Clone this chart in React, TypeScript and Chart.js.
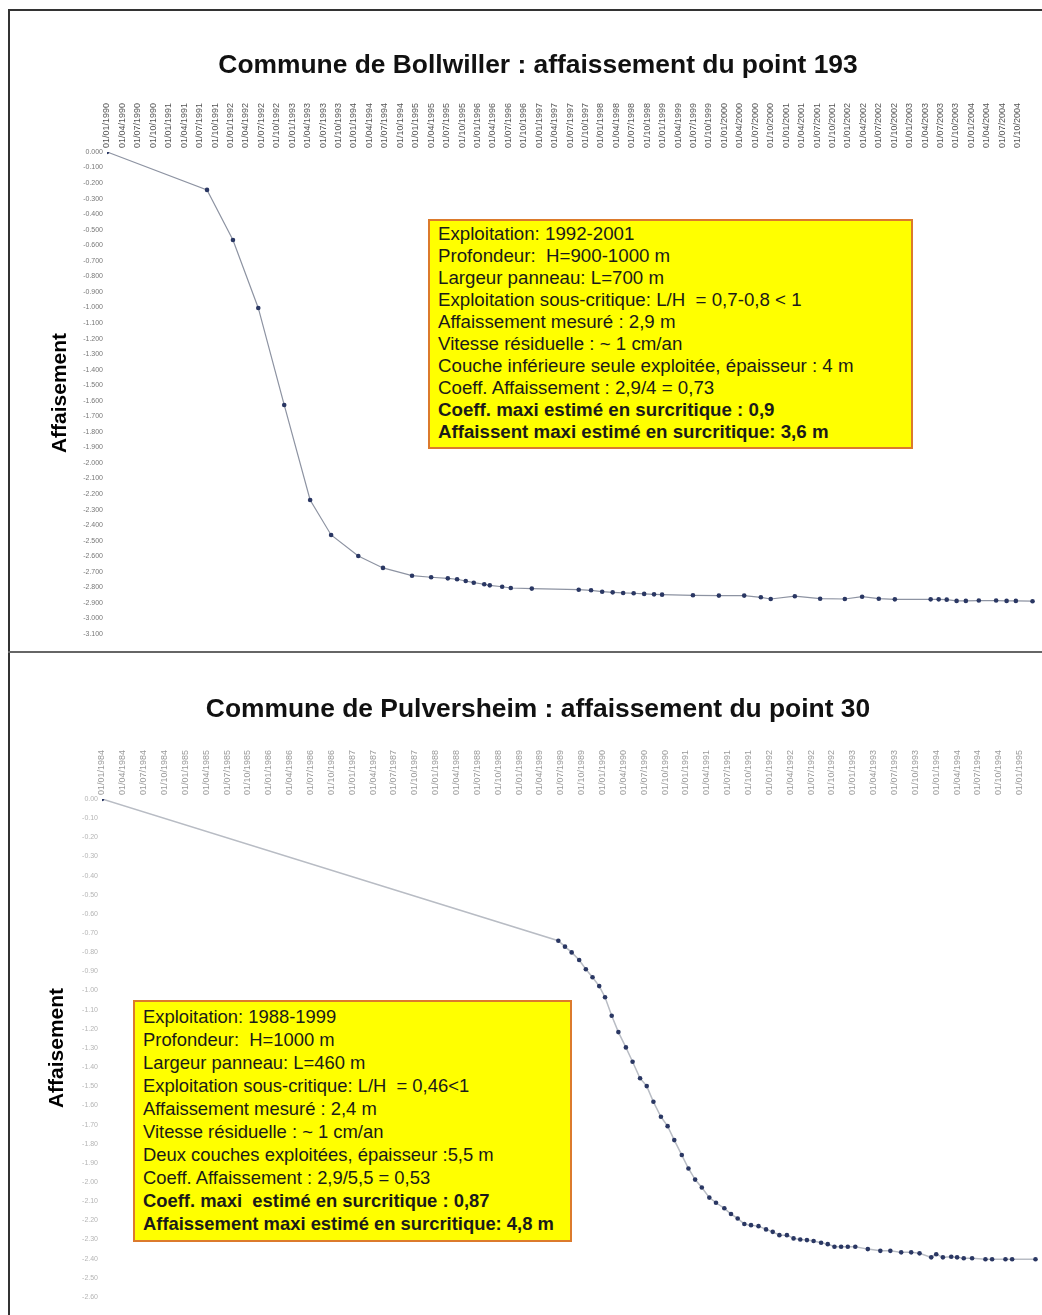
import React, { useEffect, useRef } from "react";
import { Chart, registerables } from "chart.js";

Chart.register(...registerables);

const FONT = "'Liberation Sans', Arial, Helvetica, sans-serif";

// ---------- Bollwiller, point 193 ----------
const bollwillerTitle = "Commune de Bollwiller : affaissement du point 193";
const bollwillerDates = [
  1990.0, 1991.62, 1992.04, 1992.45, 1992.87, 1993.29, 1993.63, 1994.07, 1994.47, 1994.94,
  1995.25, 1995.52, 1995.67, 1995.81, 1995.94, 1996.11, 1996.2, 1996.4, 1996.54, 1996.88,
  1997.64, 1997.84, 1998.02, 1998.19, 1998.36, 1998.53, 1998.7, 1998.86, 1998.99, 1999.49,
  1999.91, 2000.32, 2000.59, 2000.75, 2001.14, 2001.55, 2001.95, 2002.23, 2002.5, 2002.76,
  2003.34, 2003.47, 2003.6, 2003.76, 2003.91, 2004.12, 2004.4, 2004.57, 2004.72, 2004.99,
];
const bollwillerValues = [
  0, -0.244, -0.566, -1.003, -1.627, -2.238, -2.463, -2.598, -2.675, -2.725,
  -2.735, -2.742, -2.748, -2.759, -2.77, -2.78, -2.787, -2.796, -2.804, -2.808,
  -2.815, -2.819, -2.828, -2.832, -2.836, -2.838, -2.842, -2.845, -2.847, -2.851,
  -2.853, -2.853, -2.864, -2.875, -2.857, -2.873, -2.875, -2.86, -2.873, -2.877,
  -2.877, -2.877, -2.879, -2.887, -2.887, -2.885, -2.885, -2.887, -2.887, -2.889,
];
const bollwillerTickLabels = [
  "01/01/1990", "01/04/1990", "01/07/1990", "01/10/1990",
  "01/01/1991", "01/04/1991", "01/07/1991", "01/10/1991",
  "01/01/1992", "01/04/1992", "01/07/1992", "01/10/1992",
  "01/01/1993", "01/04/1993", "01/07/1993", "01/10/1993",
  "01/01/1994", "01/04/1994", "01/07/1994", "01/10/1994",
  "01/01/1995", "01/04/1995", "01/07/1995", "01/10/1995",
  "01/01/1996", "01/04/1996", "01/07/1996", "01/10/1996",
  "01/01/1997", "01/04/1997", "01/07/1997", "01/10/1997",
  "01/01/1998", "01/04/1998", "01/07/1998", "01/10/1998",
  "01/01/1999", "01/04/1999", "01/07/1999", "01/10/1999",
  "01/01/2000", "01/04/2000", "01/07/2000", "01/10/2000",
  "01/01/2001", "01/04/2001", "01/07/2001", "01/10/2001",
  "01/01/2002", "01/04/2002", "01/07/2002", "01/10/2002",
  "01/01/2003", "01/04/2003", "01/07/2003", "01/10/2003",
  "01/01/2004", "01/04/2004", "01/07/2004", "01/10/2004",
];
const bollwillerXRange = [1990.0, 2005.03];
const bollwillerYRange = [-3.1, 0];
const bollwillerNotes = [
  "Exploitation: 1992-2001",
  "Profondeur:  H=900-1000 m",
  "Largeur panneau: L=700 m",
  "Exploitation sous-critique: L/H  = 0,7-0,8 < 1",
  "Affaissement mesuré : 2,9 m",
  "Vitesse résiduelle : ~ 1 cm/an",
  "Couche inférieure seule exploitée, épaisseur : 4 m",
  "Coeff. Affaissement : 2,9/4 = 0,73",
];
const bollwillerBoldNotes = [
  "Coeff. maxi estimé en surcritique : 0,9",
  "Affaissent maxi estimé en surcritique: 3,6 m",
];

// ---------- Pulversheim, point 30 ----------
const pulversheimTitle = "Commune de Pulversheim : affaissement du point 30";
const pulversheimDates = [
  1984.0, 1989.47, 1989.55, 1989.63, 1989.72, 1989.8, 1989.88, 1989.96, 1990.03, 1990.11,
  1990.19, 1990.28, 1990.36, 1990.45, 1990.53, 1990.61, 1990.7, 1990.78, 1990.86, 1990.95,
  1991.03, 1991.11, 1991.19, 1991.28, 1991.36, 1991.46, 1991.54, 1991.62, 1991.7, 1991.78,
  1991.87, 1991.96, 1992.04, 1992.12, 1992.21, 1992.29, 1992.37, 1992.45, 1992.53, 1992.62,
  1992.7, 1992.78, 1992.86, 1992.94, 1993.03, 1993.18, 1993.33, 1993.45, 1993.58, 1993.7,
  1993.8, 1993.94, 1994.0, 1994.08, 1994.18, 1994.25, 1994.33, 1994.43, 1994.59, 1994.67,
  1994.83, 1994.91, 1995.19,
];
const pulversheimValues = [
  0, -0.74, -0.771, -0.801, -0.841, -0.889, -0.931, -0.977, -1.035, -1.132,
  -1.217, -1.297, -1.372, -1.458, -1.499, -1.581, -1.659, -1.708, -1.781, -1.859,
  -1.929, -1.987, -2.028, -2.081, -2.108, -2.137, -2.167, -2.19, -2.219, -2.225,
  -2.23, -2.247, -2.26, -2.277, -2.277, -2.294, -2.3, -2.303, -2.308, -2.317,
  -2.324, -2.338, -2.338, -2.338, -2.338, -2.35, -2.359, -2.359, -2.367, -2.367,
  -2.372, -2.393, -2.377, -2.393, -2.39, -2.393, -2.398, -2.398, -2.403, -2.403,
  -2.403, -2.403, -2.403,
];
const pulversheimTickLabels = [
  "01/01/1984", "01/04/1984", "01/07/1984", "01/10/1984",
  "01/01/1985", "01/04/1985", "01/07/1985", "01/10/1985",
  "01/01/1986", "01/04/1986", "01/07/1986", "01/10/1986",
  "01/01/1987", "01/04/1987", "01/07/1987", "01/10/1987",
  "01/01/1988", "01/04/1988", "01/07/1988", "01/10/1988",
  "01/01/1989", "01/04/1989", "01/07/1989", "01/10/1989",
  "01/01/1990", "01/04/1990", "01/07/1990", "01/10/1990",
  "01/01/1991", "01/04/1991", "01/07/1991", "01/10/1991",
  "01/01/1992", "01/04/1992", "01/07/1992", "01/10/1992",
  "01/01/1993", "01/04/1993", "01/07/1993", "01/10/1993",
  "01/01/1994", "01/04/1994", "01/07/1994", "01/10/1994",
  "01/01/1995",
];
const pulversheimXRange = [1984.0, 1995.22];
const pulversheimYRange = [-2.6, 0];
const pulversheimNotes = [
  "Exploitation: 1988-1999",
  "Profondeur:  H=1000 m",
  "Largeur panneau: L=460 m",
  "Exploitation sous-critique: L/H  = 0,46<1",
  "Affaissement mesuré : 2,4 m",
  "Vitesse résiduelle : ~ 1 cm/an",
  "Deux couches exploitées, épaisseur :5,5 m",
  "Coeff. Affaissement : 2,9/5,5 = 0,53",
];
const pulversheimBoldNotes = [
  "Coeff. maxi  estimé en surcritique : 0,87",
  "Affaissement maxi estimé en surcritique: 4,8 m",
];

const yAxisTitle = "Affaisement";

function dateToYear(s: string): number {
  const [d, m, y] = s.split("/").map(Number);
  return y + (m - 1) / 12 + (d - 1) / 365;
}

type PanelProps = {
  left: number;
  top: number;
  width: number;
  height: number;
  title: string;
  dates: number[];
  values: number[];
  tickLabels: string[];
  xRange: number[];
  yRange: number[];
  yDecimals: number;
  pad: { left: number; right: number; bottom: number };
  titlePad: { top: number; bottom: number };
  yTitlePad: number;
  xAxisHeight: number;
  yAxisWidth: number;
  lineColor: string;
  lineWidth: number;
  xTickColor: string;
  yTickColor: string;
};

function SubsidencePanel(p: PanelProps) {
  const ref = useRef<HTMLCanvasElement | null>(null);
  useEffect(() => {
    if (!ref.current) return;
    const tickPositions = p.tickLabels.map(dateToYear);
    const chart = new Chart(ref.current, {
      type: "line",
      data: {
        datasets: [
          {
            data: p.dates.map((d, i) => ({ x: d, y: p.values[i] })),
            borderColor: p.lineColor,
            borderWidth: p.lineWidth,
            pointRadius: 2.3,
            pointBackgroundColor: "#2a3763",
            pointBorderWidth: 0,
            tension: 0,
            fill: false,
          },
        ],
      },
      options: {
        animation: false,
        responsive: false,
        layout: { padding: { left: p.pad.left, right: p.pad.right, bottom: p.pad.bottom, top: 0 } },
        plugins: {
          legend: { display: false },
          tooltip: { enabled: false },
          title: {
            display: true,
            text: p.title,
            color: "#111",
            font: { family: FONT, size: 26.4, weight: "bold" },
            padding: { top: p.titlePad.top, bottom: p.titlePad.bottom },
          },
        },
        scales: {
          x: {
            type: "linear",
            position: "top",
            min: p.xRange[0],
            max: p.xRange[1],
            grid: { display: false, drawTicks: false },
            border: { display: false },
            afterBuildTicks: (scale: any) => {
              scale.ticks = tickPositions.map((v) => ({ value: v }));
            },
            afterFit: (scale: any) => {
              scale.height = p.xAxisHeight;
            },
            ticks: {
              autoSkip: false,
              maxRotation: 90,
              minRotation: 90,
              padding: 4,
              labelOffset: 10.8,
              color: p.xTickColor,
              font: { family: FONT, size: 9 },
              callback: (_v: any, i: number) => p.tickLabels[i],
            },
          },
          y: {
            type: "linear",
            min: p.yRange[0],
            max: p.yRange[1],
            grid: { display: false, drawTicks: false },
            border: { display: false },
            afterFit: (scale: any) => {
              scale.width = p.yAxisWidth;
            },
            ticks: {
              stepSize: 0.1,
              padding: 4,
              color: p.yTickColor,
              font: { family: FONT, size: 7 },
              callback: (v: any) => Number(v).toFixed(p.yDecimals),
            },
            title: {
              display: true,
              text: yAxisTitle,
              color: "#000",
              font: { family: FONT, size: 21, weight: "bold" },
              padding: { top: p.yTitlePad, bottom: 0 },
            },
          },
        },
      } as any,
    });
    return () => chart.destroy();
  }, []);
  return (
    <canvas
      ref={ref}
      width={p.width}
      height={p.height}
      style={{ position: "absolute", left: p.left, top: p.top, width: p.width, height: p.height }}
    />
  );
}

function NoteBox(props: {
  left: number;
  top: number;
  width: number;
  height: number;
  lineHeight: number;
  fontSize: number;
  padTop: number;
  notes: string[];
  boldNotes: string[];
}) {
  return (
    <div
      style={{
        position: "absolute",
        left: props.left,
        top: props.top,
        width: props.width,
        height: props.height,
        boxSizing: "border-box",
        background: "#ffff00",
        border: "2px solid #dc7a2c",
        paddingLeft: 8,
        paddingTop: props.padTop,
        fontFamily: FONT,
        fontSize: props.fontSize,
        lineHeight: props.lineHeight + "px",
        color: "#1a1a1a",
        whiteSpace: "pre",
        overflow: "hidden",
      }}
    >
      {props.notes.map((t, i) => (
        <div key={"n" + i}>{t}</div>
      ))}
      {props.boldNotes.map((t, i) => (
        <div key={"b" + i} style={{ fontWeight: "bold" }}>
          {t}
        </div>
      ))}
    </div>
  );
}

export default function App() {
  return (
    <div style={{ position: "absolute", left: 0, top: 0, width: 1042, height: 1315, background: "#fff", overflow: "hidden" }}>
      <div style={{ position: "absolute", left: 8, top: 9, width: 1040, height: 1310, borderTop: "2px solid #333", borderLeft: "2px solid #333" }} />
      <div style={{ position: "absolute", left: 8, top: 651, width: 1040, height: 2, background: "#666" }} />
      <SubsidencePanel
        left={10}
        top={12}
        width={1032}
        height={638}
        title={bollwillerTitle}
        dates={bollwillerDates}
        values={bollwillerValues}
        tickLabels={bollwillerTickLabels}
        xRange={bollwillerXRange}
        yRange={bollwillerYRange}
        yDecimals={3}
        pad={{ left: 31, right: 7, bottom: 16 }}
        titlePad={{ top: 37.4, bottom: 18.9 }}
        yTitlePad={6.4}
        xAxisHeight={52}
        yAxisWidth={66}
        lineColor="#8d93a2"
        lineWidth={1.2}
        xTickColor="#555"
        yTickColor="#777"
      />
      <SubsidencePanel
        left={10}
        top={655}
        width={1032}
        height={660}
        title={pulversheimTitle}
        dates={pulversheimDates}
        values={pulversheimValues}
        tickLabels={pulversheimTickLabels.slice(0, 45)}
        xRange={pulversheimXRange}
        yRange={pulversheimYRange}
        yDecimals={2}
        pad={{ left: 26, right: 2, bottom: 18 }}
        titlePad={{ top: 39.2, bottom: 21.1 }}
        yTitlePad={8.4}
        xAxisHeight={52}
        yAxisWidth={66}
        lineColor="#b8bcc4"
        lineWidth={1.5}
        xTickColor="#9a9a9a"
        yTickColor="#b5b5b5"
      />
      <NoteBox
        left={428}
        top={219}
        width={485}
        height={230}
        lineHeight={22}
        fontSize={18.7}
        padTop={2}
        notes={bollwillerNotes}
        boldNotes={bollwillerBoldNotes}
      />
      <NoteBox
        left={133}
        top={1000}
        width={439}
        height={242}
        lineHeight={23}
        fontSize={18.4}
        padTop={3}
        notes={pulversheimNotes}
        boldNotes={pulversheimBoldNotes}
      />
    </div>
  );
}
